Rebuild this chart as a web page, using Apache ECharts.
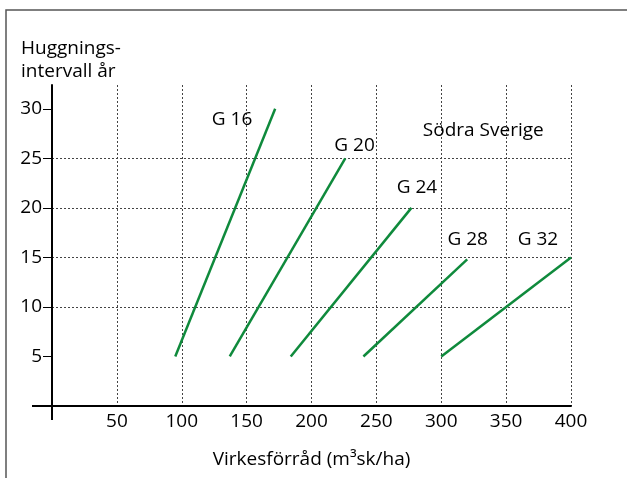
<!DOCTYPE html>
<html>
<head>
<meta charset="utf-8">
<script src="https://cdn.jsdelivr.net/npm/echarts@6/dist/echarts.min.js"></script>
<style>
  html, body { margin: 0; padding: 0; background: #fff; }
  #chart { width: 627px; height: 478px; }
</style>
</head>
<body>
<div id="chart"></div>
<script>
// Kurvor: virkesförråd (x) och huggningsintervall (y) i början och slutet
var seriesNames = ['G 16', 'G 20', 'G 24', 'G 28', 'G 32'];
var startX = [95, 137, 184, 240, 300];
var startY = [5, 5, 5, 5, 5];
var endX = [172, 226, 277, 320, 400];
var endY = [30, 25, 20, 14.8, 15];

// tick labels
var xTicks = [50, 100, 150, 200, 250, 300, 350, 400];
var yTicks = [5, 10, 15, 20, 25, 30];

// Etiketter i diagrammet (placering i dataenheter)
var labelTexts = ['G 16', 'G 20', 'G 24', 'G 28', 'G 32', 'Södra Sverige'];
var labelX = [138.8, 233.2, 281.3, 320.4, 374.5, 332.4];
var labelY = [28.9, 26.3, 22.0, 16.8, 16.8, 27.8];

var FONT = 'Open Sans';
var FS = 19;
var GREEN = '#0f8a3c';

var chart = echarts.init(document.getElementById('chart'));

var series = [];
for (var i = 0; i < seriesNames.length; i++) {
    series.push({
        name: seriesNames[i],
        type: 'line',
        symbol: 'none',
        silent: true,
        lineStyle: { color: GREEN, width: 2.5 },
        data: [[startX[i], startY[i]], [endX[i], endY[i]]]
    });
}

var labelData = [];
for (var j = 0; j < labelTexts.length; j++) {
    labelData.push({ value: [labelX[j], labelY[j]], name: labelTexts[j] });
}
series.push({
    type: 'scatter',
    symbolSize: 0,
    silent: true,
    itemStyle: { opacity: 1 },
    data: labelData,
    label: {
        show: true,
        position: 'inside',
        formatter: '{b}',
        color: '#000',
        fontSize: FS,
        fontFamily: FONT
    }
});

var option = {
    animation: false,
    title: {
        text: 'Huggnings-\nintervall år',
        left: 21,
        top: 37,
        padding: 0,
        textStyle: {
            fontSize: FS,
            fontWeight: 'normal',
            fontFamily: FONT,
            color: '#000',
            lineHeight: 23
        }
    },
    grid: {
        left: 52,
        right: 56,
        top: 85,
        bottom: 72,
        containLabel: false
    },
    xAxis: {
        type: 'value',
        min: 0,
        max: 400,
        interval: 50,
        name: 'Virkesförråd (m³sk/ha)',
        nameLocation: 'middle',
        nameGap: 44,
        nameTextStyle: { fontSize: FS, fontFamily: FONT, color: '#000' },
        axisLine: { onZero: false, lineStyle: { color: '#000', width: 2 } },
        axisTick: { show: false },
        axisLabel: {
            customValues: xTicks,
            margin: 6,
            fontSize: FS,
            fontFamily: FONT,
            color: '#000'
        },
        splitLine: {
            show: true,
            lineStyle: { color: '#444', width: 1, type: [2, 2] }
        }
    },
    yAxis: {
        type: 'value',
        min: 0,
        max: 32.4,
        interval: 5,
        axisLine: { onZero: false, lineStyle: { color: '#000', width: 2 } },
        axisTick: {
            show: true,
            customValues: yTicks,
            length: 9,
            lineStyle: { color: '#000', width: 1 }
        },
        axisLabel: {
            customValues: yTicks,
            margin: 10,
            fontSize: FS,
            fontFamily: FONT,
            color: '#000'
        },
        splitLine: {
            show: true,
            showMinLine: false,
            showMaxLine: false,
            lineStyle: { color: '#444', width: 1, type: [2, 2] }
        }
    },
    series: series
};

chart.setOption(option);

// Axellinjerna sticker ut förbi origo + ram runt figuren
var origin = chart.convertToPixel({ gridIndex: 0 }, [0, 0]);
chart.setOption({
    graphic: [
        {
            type: 'rect',
            shape: { x: 6, y: 10, width: 700, height: 600 },
            style: { fill: 'none', stroke: '#555', lineWidth: 1.5 },
            silent: true
        },
        {
            type: 'line',
            shape: { x1: origin[0] - 20, y1: origin[1], x2: origin[0], y2: origin[1] },
            style: { stroke: '#000', lineWidth: 2 },
            silent: true
        },
        {
            type: 'line',
            shape: { x1: origin[0], y1: origin[1], x2: origin[0], y2: origin[1] + 14 },
            style: { stroke: '#000', lineWidth: 2 },
            silent: true
        }
    ]
});
</script>
</body>
</html>
